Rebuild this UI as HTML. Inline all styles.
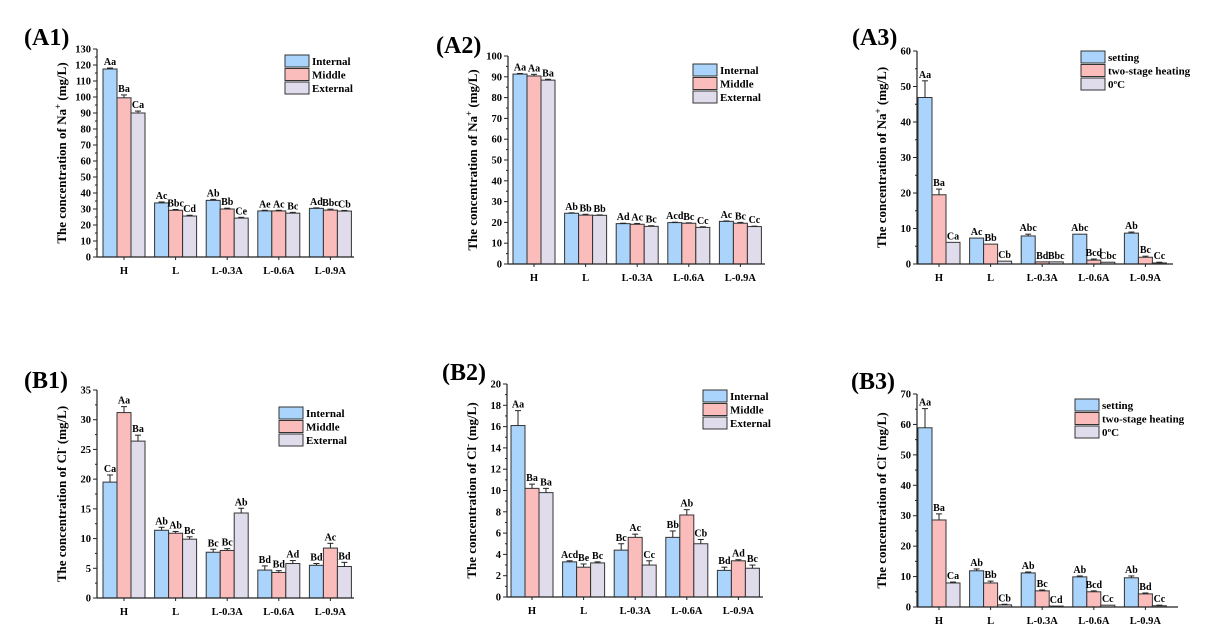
<!DOCTYPE html>
<html><head><meta charset="utf-8"><style>
html,body{margin:0;padding:0;background:#fff;}
svg{display:block;font-family:"Liberation Serif",serif;font-weight:bold;}
</style></head><body>
<svg id="s" width="1226" height="642" viewBox="0 0 1226 642" xmlns="http://www.w3.org/2000/svg"></svg>
<script>
const S=document.getElementById('s');let h='';
const cols=['#aad4fb','#fbbcbc','#e0dcec'];
const P=[
{t:'(A1)',tx:24,ty:45,ax:97,top:49,bot:257,right:354,max:130,step:10,g0:124,ion:'Na',sup:'+',
 d:[[117.5,99.5,90],[33.8,29.2,25.6],[35.4,30,24.3],[28.8,28.8,27.4],[30.4,29.3,28.7]],
 e:[[0.6,1.8,1.2],[0.6,0.5,0.5],[0.6,0.5,0.5],[0.4,0.4,0.5],[0.3,0.6,0.4]],
 l:[['Aa','Ba','Ca'],['Ac','Bbc','Cd'],['Ab','Bb','Ce'],['Ae','Ac','Bc'],['Ad','Bbc','Cb']],
 leg:['Internal','Middle','External'],lx:285,ly:55},
{t:'(A2)',tx:436,ty:53,ax:508,top:56,bot:264,right:765,max:100,step:10,g0:534,ion:'Na',sup:'+',
 d:[[91.3,90.4,88.4],[24.4,23.5,23.4],[19.4,19.1,18.1],[19.9,19.6,17.6],[20.5,19.6,18.0]],
 e:[[0.3,0.8,0.4],[0.2,0.4,0.2],[0.2,0.4,0.3],[0.2,0.2,0.3],[0.2,0.4,0.2]],
 l:[['Aa','Aa','Ba'],['Ab','Bb','Bb'],['Ad','Ac','Bc'],['Acd','Bc','Cc'],['Ac','Bc','Cc']],
 leg:['Internal','Middle','External'],lx:693,ly:64},
{t:'(A3)',tx:852,ty:45,ax:917,top:51,bot:264,right:1173,max:60,step:10,g0:939,ion:'Na',sup:'+',
 d:[[46.9,19.5,6.1],[7.3,5.6,0.8],[7.9,0.6,0.6],[8.4,1.1,0.5],[8.7,1.9,0.3]],
 e:[[4.7,1.6,0],[0,0,0],[0.5,0,0],[0,0.3,0],[0.3,0.3,0.2]],
 l:[['Aa','Ba','Ca'],['Ac','Bb','Cb'],['Abc','Bd','Bbc'],['Abc','Bcd','Cbc'],['Ab','Bc','Cc']],
 leg:['setting','two-stage heating','0ºC'],lx:1081,ly:51},
{t:'(B1)',tx:24,ty:388,ax:97,top:390,bot:598,right:354,max:35,step:5,g0:124,ion:'Cl',sup:'-',
 d:[[19.5,31.2,26.4],[11.4,10.9,9.9],[7.7,8.0,14.3],[4.7,4.3,5.8],[5.5,8.4,5.3]],
 e:[[1.2,1.0,1.0],[0.5,0.3,0.4],[0.5,0.3,0.8],[0.7,0.3,0.5],[0.3,0.8,0.7]],
 l:[['Ca','Aa','Ba'],['Ab','Ab','Bc'],['Bc','Bc','Ab'],['Bd','Bd','Ad'],['Bd','Ac','Bd']],
 leg:['Internal','Middle','External'],lx:279,ly:407},
{t:'(B2)',tx:442,ty:380,ax:507,top:384,bot:597,right:763,max:20,step:2,g0:532,ion:'Cl',sup:'-',
 d:[[16.1,10.2,9.8],[3.3,2.8,3.2],[4.4,5.6,3.0],[5.6,7.7,5.0],[2.5,3.4,2.7]],
 e:[[1.4,0.4,0.4],[0.1,0.3,0.1],[0.6,0.3,0.4],[0.6,0.5,0.4],[0.3,0.1,0.3]],
 l:[['Aa','Ba','Ba'],['Acd','Be','Bc'],['Bc','Ac','Cc'],['Bb','Ab','Cb'],['Bd','Ad','Bc']],
 leg:['Internal','Middle','External'],lx:703,ly:390},
{t:'(B3)',tx:851,ty:389,ax:917,top:394,bot:607,right:1178,max:70,step:10,g0:939,ion:'Cl',sup:'-',
 d:[[58.9,28.6,7.9],[11.9,7.9,0.7],[11.2,5.3,0.3],[9.9,5.0,0.6],[9.6,4.3,0.4]],
 e:[[6.3,2.0,0.3],[0.6,0.6,0.2],[0.3,0.3,0],[0.3,0.3,0],[0.6,0.3,0.2]],
 l:[['Aa','Ba','Ca'],['Ab','Bb','Cb'],['Ab','Bc','Cd'],['Ab','Bcd','Cc'],['Ab','Bd','Cc']],
 leg:['setting','two-stage heating','0ºC'],lx:1075,ly:399}
];
const names=['H','L','L-0.3A','L-0.6A','L-0.9A'];
for(const p of P){
 const Y=v=>p.bot-(v/p.max)*(p.bot-p.top);
 h+=`<text x="${p.tx}" y="${p.ty}" font-size="24">${p.t}</text>`;
 for(let g=0;g<5;g++){const c=p.g0+g*51.6;
  for(let k=0;k<3;k++){const x=c-21+k*14,v=p.d[g][k],y=Y(v),ye=Y(v+p.e[g][k]);
   h+=`<rect x="${x}" y="${y}" width="14" height="${p.bot-y}" fill="${cols[k]}" stroke="#333" stroke-width="1"/>`;
   if(p.e[g][k]>0)h+=`<line x1="${x+7}" y1="${y}" x2="${x+7}" y2="${ye}" stroke="#222"/><line x1="${x+4}" y1="${ye}" x2="${x+10}" y2="${ye}" stroke="#222"/>`;
   h+=`<text x="${x+7}" y="${ye-3}" font-size="10" text-anchor="middle">${p.l[g][k]}</text>`;}
  h+=`<line x1="${c}" y1="${p.bot}" x2="${c}" y2="${p.bot+3}" stroke="#222"/>`;
  h+=`<text x="${c}" y="${p.bot+17}" font-size="10.5" text-anchor="middle">${names[g]}</text>`;}
 h+=`<line x1="${p.ax}" y1="${p.top}" x2="${p.ax}" y2="${p.bot}" stroke="#222" stroke-width="1.2"/><line x1="${p.ax}" y1="${p.bot}" x2="${p.right}" y2="${p.bot}" stroke="#222" stroke-width="1.2"/>`;
 for(let v=0;v<=p.max+1e-9;v+=p.step/2){const y=Y(v),maj=Math.abs(v/p.step-Math.round(v/p.step))<1e-6;
  h+=`<line x1="${p.ax-(maj?4:2)}" y1="${y}" x2="${p.ax}" y2="${y}" stroke="#222"/>`;
  if(maj)h+=`<text x="${p.ax-6}" y="${y+3.5}" font-size="10.5" text-anchor="end">${Math.round(v)}</text>`;}
 const cy=(p.top+p.bot)/2,lx=p.ax-31;
 h+=`<text transform="translate(${lx},${cy}) rotate(-90)" font-size="13" text-anchor="middle">The concentration of ${p.ion}<tspan font-size="9" dy="-5">${p.sup}</tspan><tspan dy="5"> (mg/L)</tspan></text>`;
 for(let k=0;k<3;k++){const y=p.ly+k*13.5;
  h+=`<rect x="${p.lx}" y="${y}" width="24" height="12" fill="${cols[k]}" stroke="#333"/>`;
  h+=`<text x="${p.lx+27}" y="${y+10}" font-size="11">${p.leg[k]}</text>`;}
}
S.innerHTML=h;
</script>
</body></html>
